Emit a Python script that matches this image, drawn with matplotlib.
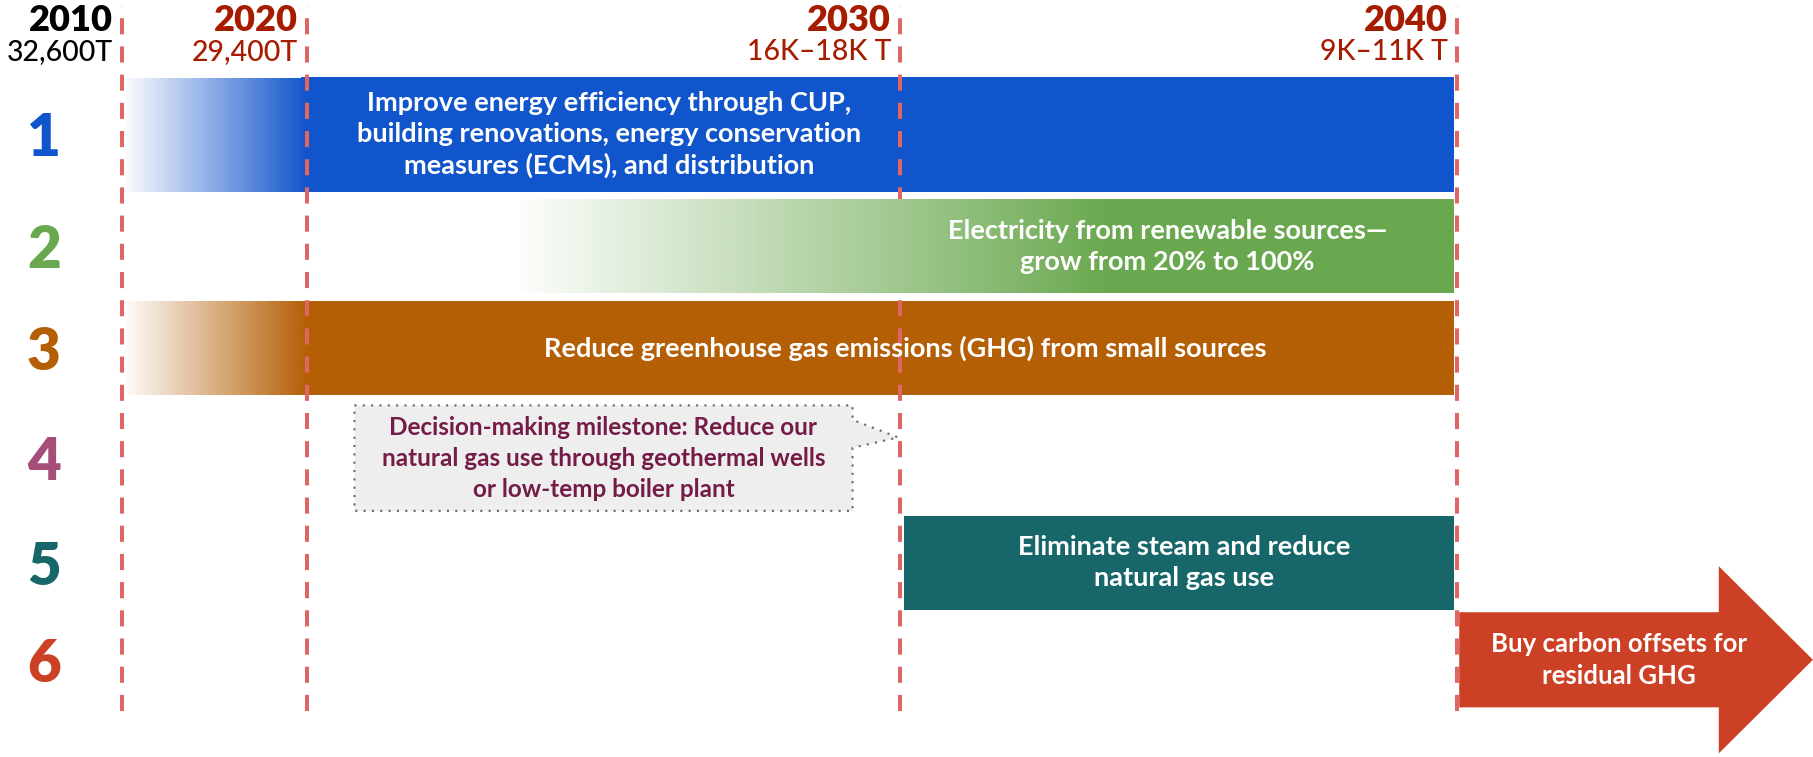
import numpy as np
import matplotlib
matplotlib.use("Agg")
import matplotlib.pyplot as plt
from matplotlib.colors import to_rgb
from matplotlib.patches import Polygon

plt.rcParams['font.family'] = ['Lato', 'DejaVu Sans']

# milestones across the top
years = [2010, 2020, 2030, 2040]
year_totals = ['32,600T', '29,400T', '16K–18K T', '9K–11K T']
year_colors = ['black', '#A61C00', '#A61C00', '#A61C00']

# row numbers down the left
row_nums = ['1', '2', '3', '4', '5', '6']
row_colors = ['#1155CC', '#6AA84F', '#B45F06', '#A64D79', '#17676A', '#CC4125']

# strategy bars (rows 1, 2, 3, 5): fade in from start, solid from solid_from
bar_rows = [0, 1, 2, 4]
bar_start = [2010.15, 2023.6, 2010.15, 2030.07]
bar_solid_from = [2020.0, 2033.8, 2020.0, 2030.07]
bar_end = [2039.95, 2039.95, 2039.95, 2039.95]
bar_texts = [
    'Improve energy efficiency through CUP,\nbuilding renovations, energy conservation\nmeasures (ECMs), and distribution',
    'Electricity from renewable sources—\ngrow from 20% to 100%',
    'Reduce greenhouse gas emissions (GHG) from small sources',
    'Eliminate steam and reduce\nnatural gas use',
]
bar_text_x = [2025.1, 2034.8, 2030.1, 2035.1]

# row 4: decision milestone callout
milestone_start = 2020.8
milestone_end = 2029.2
milestone_point = 2029.97
milestone_text = ('Decision-making milestone: Reduce our\nnatural gas use through geothermal wells\n'
                  'or low-temp boiler plant')
milestone_text_x = 2025.0

# row 6: offsets arrow
offset_start = 2040.04
offset_end = 2046.39
offset_text = 'Buy carbon offsets for\nresidual GHG'
offset_text_x = 2042.9

# ---- layout ----
W, H = 1813, 757
year_px = [122, 307, 900, 1457]          # milestones are not evenly spaced
row_y = [0.92, 2.0, 2.985, 4.05, 5.06, 6.0]
row_h = [1.11, 0.91, 0.91, 1.02, 0.91, 0.92]
head_h = 1.81
head_len = 1.69

anchor_yr = np.array([years[0] - 10] + years + [years[-1] + 10], dtype=float)
anchor_px = np.array([2 * year_px[0] - year_px[1]] + year_px + [2 * year_px[-1] - year_px[-2]], dtype=float)


def fwd(x):
    return np.interp(x, anchor_yr, anchor_px)


def inv(p):
    return np.interp(p, anchor_px, anchor_yr)


fig = plt.figure(figsize=(W / 100, H / 100), dpi=100)
ax = fig.add_axes([0, 0, 1, 1])
ax.set_xscale('function', functions=(fwd, inv))


def fade(x0, x1, yc, h, color, z):
    # colour blended onto white, opaque so the dashed lines don't show through
    a = np.linspace(0.02, 1, 256)[None, :, None]
    img = 1 - a * (1 - np.array(to_rgb(color)))
    ax.imshow(img, extent=(x0, x1, yc + h / 2, yc - h / 2), aspect='auto',
              interpolation='bilinear', zorder=z + 0.1)


txt = dict(color='white', fontsize=19.5, fontweight='bold', ha='center', va='center',
           multialignment='center', linespacing=1.35)

for i, r in enumerate(bar_rows):
    z = 4 if r == 1 else 2
    c = row_colors[r]
    left = bar_solid_from[i]
    if bar_solid_from[i] > bar_start[i]:
        fade(bar_start[i], bar_solid_from[i], row_y[r], row_h[r], c, z)
        left = bar_solid_from[i] - 0.3
    ax.barh(row_y[r], bar_end[i] - left, left=left, height=row_h[r],
            color=c, linewidth=0, zorder=z)
    ax.text(bar_text_x[i], row_y[r], bar_texts[i], zorder=5, **txt)

# callout
yc, hh = row_y[3], row_h[3] / 2
callout = Polygon([(milestone_start, yc - hh), (milestone_end, yc - hh), (milestone_end, yc - 0.37),
                   (milestone_point, yc - 0.20), (milestone_end, yc - 0.10), (milestone_end, yc + hh),
                   (milestone_start, yc + hh)], closed=True, facecolor='#EEEEEE', edgecolor='#666666',
                  linewidth=1.5, linestyle=(0, (1, 3)), zorder=2)
ax.add_patch(callout)
ax.text(milestone_text_x, yc, milestone_text, zorder=5,
        **{**txt, 'color': '#741B47', 'fontsize': 17.5, 'linespacing': 1.42})

# arrow
yc = row_y[5]
hb, hd = row_h[5] / 2, head_h / 2
xh = offset_end - head_len
arrow = Polygon([(offset_start, yc - hb), (xh, yc - hb), (xh, yc - hd), (offset_end, yc),
                 (xh, yc + hd), (xh, yc + hb), (offset_start, yc + hb)], closed=True,
                facecolor=row_colors[5], edgecolor='none', zorder=2)
ax.add_patch(arrow)
ax.text(offset_text_x, yc, offset_text, zorder=5, **{**txt, 'fontsize': 18.5, 'linespacing': 1.4})

# milestone lines and headers
for yr, tot, c in zip(years, year_totals, year_colors):
    ax.axvline(yr, ymin=1 - 711 / H, ymax=1 - 6 / H, color='#E06666', linewidth=2.9,
               linestyle=(0, (4.0, 3.0)), zorder=3)
    ax.annotate(str(yr), xy=(yr, 1 - 31 / H), xycoords=('data', 'axes fraction'), xytext=(-9, 0),
                textcoords='offset pixels', ha='right', va='baseline', fontsize=26,
                fontweight='heavy', color=c)
    ax.annotate(tot, xy=(yr, 1 - 60 / H), xycoords=('data', 'axes fraction'), xytext=(-9, 0),
                textcoords='offset pixels', ha='right', va='baseline', fontsize=20.5,
                fontweight='medium', color=c)

# row numbers
for num, c, y in zip(row_nums, row_colors, row_y):
    ax.annotate(num, xy=(inv(44), y), xytext=(0, -22), textcoords='offset pixels', ha='center',
                va='baseline', fontsize=42, fontweight='heavy', color=c)

ax.set_xlim(inv(0), inv(W))
ax.set_ylim(6.94, -0.38)
ax.axis('off')

fig.savefig('out.png', dpi=100)
